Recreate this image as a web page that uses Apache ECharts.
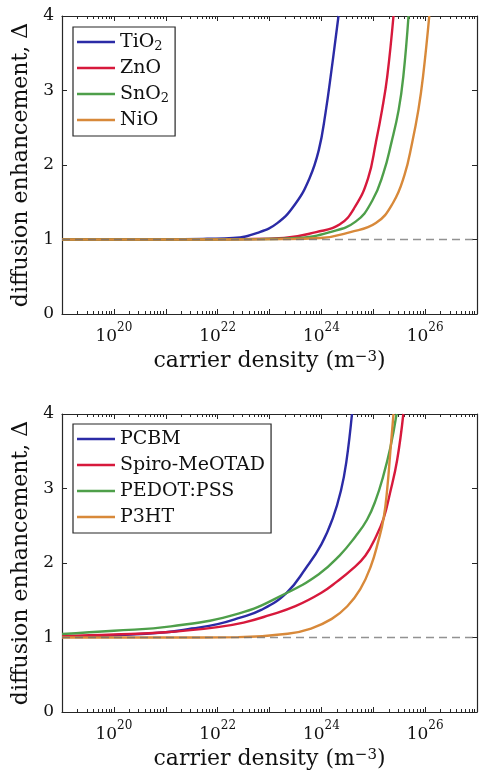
<!DOCTYPE html>
<html>
<head>
<meta charset="utf-8">
<script src="https://cdn.jsdelivr.net/npm/echarts@6/dist/echarts.min.js"></script>
<style>
  html, body { margin: 0; padding: 0; background: #fff; }
  #chart { width: 480px; height: 774px; }
</style>
</head>
<body>
<div id="chart"></div>
<script>
// log10(carrier density / m^-3) and diffusion enhancement
const topNames = ['TiO2', 'ZnO', 'SnO2', 'NiO']
const tio2LogN = [19, 20, 21, 21.8, 22.3, 22.77, 23.15, 23.5, 23.77, 23.95, 24.08, 24.2, 24.33]
const tio2Delta = [1, 1, 1.002, 1.01, 1.02, 1.09, 1.22, 1.48, 1.82, 2.2, 2.7, 3.3, 4.0]
const znoLogN = [19, 21, 22.5, 23.28, 23.9, 24.35, 24.65, 24.9, 25.05, 25.17, 25.27, 25.39]
const znoDelta = [1, 1, 1.005, 1.02, 1.1, 1.2, 1.44, 1.82, 2.3, 2.74, 3.19, 4.0]
const sno2LogN = [19, 21, 22.8, 23.55, 24.17, 24.66, 24.98, 25.2, 25.35, 25.49, 25.58, 25.68]
const sno2Delta = [1, 1, 1.005, 1.02, 1.1, 1.24, 1.52, 1.9, 2.3, 2.74, 3.19, 4.0]
const nioLogN = [19, 21, 23.2, 23.98, 24.56, 25.05, 25.38, 25.6, 25.75, 25.87, 25.96, 26.08]
const nioDelta = [1, 1, 1.005, 1.02, 1.1, 1.22, 1.49, 1.86, 2.3, 2.74, 3.19, 4.0]

const bottomNames = ['PCBM', 'Spiro-MeOTAD', 'PEDOT:PSS', 'P3HT']
const pcbmLogN = [19, 20, 21, 21.5, 22, 22.4, 22.84, 23.33, 23.7, 24.0, 24.22, 24.38, 24.48, 24.59]
const pcbmDelta = [1.01, 1.03, 1.07, 1.12, 1.18, 1.26, 1.37, 1.6, 1.93, 2.25, 2.6, 2.98, 3.35, 4.0]
const spiroLogN = [19, 20, 21, 22, 22.5, 23, 23.5, 24, 24.3, 24.6, 24.85, 25.05, 25.2, 25.32, 25.46, 25.58]
const spiroDelta = [1.02, 1.04, 1.07, 1.14, 1.2, 1.3, 1.42, 1.6, 1.75, 1.92, 2.1, 2.35, 2.6, 2.93, 3.38, 4.0]
const pedotLogN = [19, 20, 21.1, 22.4, 23.31, 23.95, 24.35, 24.65, 24.88, 25.05, 25.19, 25.33, 25.45]
const pedotDelta = [1.047, 1.09, 1.15, 1.32, 1.59, 1.85, 2.1, 2.35, 2.58, 2.85, 3.16, 3.55, 4.0]
const p3htLogN = [19, 21, 22.4, 23.35, 23.8, 24.2, 24.5, 24.75, 24.95, 25.1, 25.2, 25.27, 25.33, 25.39]
const p3htDelta = [1, 1, 1.005, 1.05, 1.12, 1.25, 1.42, 1.65, 1.95, 2.3, 2.6, 3.0, 3.5, 4.0]

// dashed reference at delta = 1
const refLogN = [19, 27]
const refDelta = [1, 1]

const xLabelExps = [20, 22, 24, 26]

const colors = ['#2b2ba6', '#d7193c', '#4e9f4a', '#d8893a']
const axisColor = '#262626'
const fontFamily = 'DejaVu Serif'

function pts(logN, delta) {
  return logN.map((e, i) => [e, delta[i]])
}

// x axis runs in decades; minor ticks sit at 2..9 inside each decade
const minorTicks = []
for (let d = 19; d < 27; d++) {
  for (let m = 2; m <= 9; m++) minorTicks.push(d + Math.log10(m))
}

const grids = [
  { left: 62, top: 16, width: 417, height: 298 },
  { left: 62, top: 414, width: 417, height: 298 },
]

const xAxes = []
const yAxes = []
grids.forEach((g, gi) => {
  const base = {
    type: 'value', min: 19, max: 27, interval: 1,
    gridIndex: gi, splitLine: { show: false },
  }
  // bottom, labelled
  xAxes.push(Object.assign({}, base, {
    position: 'bottom',
    name: 'carrier density (m{sup|−3})',
    nameLocation: 'middle', nameGap: 36,
    nameTextStyle: {
      fontFamily, fontSize: 22, color: '#111',
      rich: { sup: { fontFamily, fontSize: 15, color: '#111', verticalAlign: 'top', lineHeight: 15 } },
    },
    axisLine: { lineStyle: { color: axisColor, width: 1.2 } },
    axisTick: { inside: true, length: 5, lineStyle: { color: axisColor } },
    axisLabel: {
      margin: 8,
      formatter: v => xLabelExps.includes(v) ? '{b|10}{s|' + v + '}' : '',
      rich: {
        b: { fontFamily, fontSize: 17, color: '#111', padding: [6, 0, 0, 0], verticalAlign: 'bottom' },
        s: { fontFamily, fontSize: 12, color: '#111', verticalAlign: 'top' },
      },
    },
  }))
  // bottom, minor ticks
  xAxes.push(Object.assign({}, base, {
    position: 'bottom',
    axisLine: { show: false },
    axisTick: { inside: true, length: 3, customValues: minorTicks, lineStyle: { color: axisColor } },
    axisLabel: { show: false },
  }))
  // top mirror
  xAxes.push(Object.assign({}, base, {
    position: 'top',
    axisLine: { lineStyle: { color: axisColor, width: 1.2 } },
    axisTick: { inside: true, length: 5, lineStyle: { color: axisColor } },
    axisLabel: { show: false },
  }))
  xAxes.push(Object.assign({}, base, {
    position: 'top',
    axisLine: { show: false },
    axisTick: { inside: true, length: 3, customValues: minorTicks, lineStyle: { color: axisColor } },
    axisLabel: { show: false },
  }))

  const ybase = { type: 'value', min: 0, max: 4, interval: 1, gridIndex: gi, splitLine: { show: false } }
  yAxes.push(Object.assign({}, ybase, {
    position: 'left',
    name: 'diffusion enhancement, Δ',
    nameLocation: 'middle', nameGap: 29, nameRotate: 90,
    nameTextStyle: { fontFamily, fontSize: 22, color: '#111' },
    axisLine: { lineStyle: { color: axisColor, width: 1.2 } },
    axisTick: { inside: true, length: 5, lineStyle: { color: axisColor } },
    axisLabel: { fontFamily, fontSize: 17, color: '#111', margin: 8 },
  }))
  yAxes.push(Object.assign({}, ybase, {
    position: 'right',
    axisLine: { lineStyle: { color: axisColor, width: 1.2 } },
    axisTick: { inside: true, length: 5, lineStyle: { color: axisColor } },
    axisLabel: { show: false },
  }))
})

function lineSeries(name, data, color, gi) {
  return {
    name, type: 'line', data, xAxisIndex: gi * 4, yAxisIndex: gi * 2,
    symbol: 'none', smooth: 0.45,
    lineStyle: { color, width: 2.4 }, itemStyle: { color },
  }
}

function refSeries(gi) {
  return {
    type: 'line', data: pts(refLogN, refDelta), xAxisIndex: gi * 4, yAxisIndex: gi * 2,
    symbol: 'none', silent: true,
    lineStyle: { color: 'rgba(110,110,110,0.75)', width: 1.5, type: [8, 5] },
  }
}

const series = [
  lineSeries(topNames[0], pts(tio2LogN, tio2Delta), colors[0], 0),
  lineSeries(topNames[1], pts(znoLogN, znoDelta), colors[1], 0),
  lineSeries(topNames[2], pts(sno2LogN, sno2Delta), colors[2], 0),
  lineSeries(topNames[3], pts(nioLogN, nioDelta), colors[3], 0),
  refSeries(0),
  lineSeries(bottomNames[0], pts(pcbmLogN, pcbmDelta), colors[0], 1),
  lineSeries(bottomNames[1], pts(spiroLogN, spiroDelta), colors[1], 1),
  lineSeries(bottomNames[2], pts(pedotLogN, pedotDelta), colors[2], 1),
  lineSeries(bottomNames[3], pts(p3htLogN, p3htDelta), colors[3], 1),
  refSeries(1),
]

function legendAt(top, data) {
  return {
    data, orient: 'vertical', left: 73, top,
    icon: 'rect', itemWidth: 38, itemHeight: 2.5, itemGap: 4,
    padding: [4, 6, 5, 4],
    borderColor: axisColor, borderWidth: 1.2, backgroundColor: '#fff',
    formatter: n => n.replace(/O2$/, 'O{sub|2}'),
    textStyle: {
      fontFamily, fontSize: 19, color: '#111', lineHeight: 22,
      rich: { sub: { fontFamily, fontSize: 13, color: '#111', lineHeight: 13, padding: [9, 0, 0, 0], verticalAlign: 'bottom' } },
    },
  }
}

const option = {
  animation: false,
  backgroundColor: '#fff',
  grid: grids,
  xAxis: xAxes,
  yAxis: yAxes,
  legend: [legendAt(27, topNames), legendAt(424, bottomNames)],
  series,
}

const myChart = echarts.init(document.getElementById('chart'))
myChart.setOption(option)
</script>
</body>
</html>
